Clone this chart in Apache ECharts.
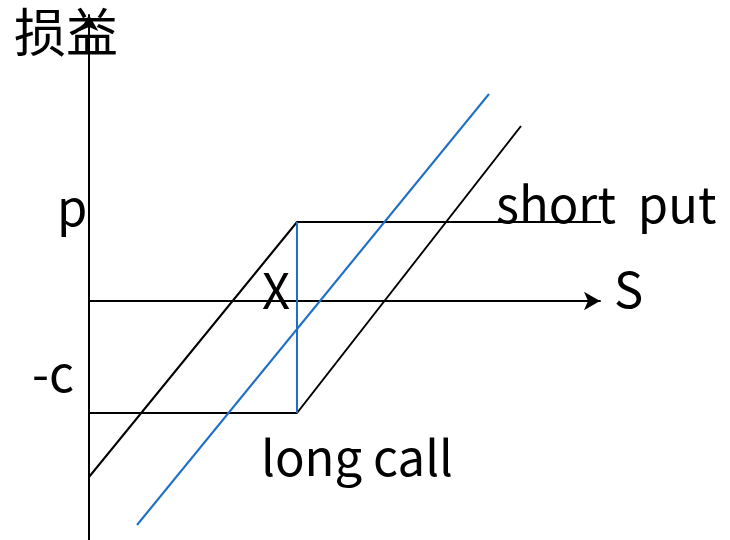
<!DOCTYPE html>
<html>
<head>
	<meta charset="utf-8">
	<title>损益图</title>
	<script src="https://cdn.jsdelivr.net/npm/echarts@6/dist/echarts.min.js"></script>
</head>
<body style="margin:0">
	<div id="main" style="width:730px; height:540px"></div>
	<script type="text/javascript">
	// 数据：横轴 S（距原点），纵轴 损益
	var strikeX = 208;
	var premiumP = 79;
	var costC = -112;
	var shortPut = [[0, -176], [strikeX, premiumP], [528, premiumP]];
	var longCall = [[0, costC], [strikeX, costC], [432, 175]];
	var combined = [[48, -224], [400, 207]];
	var strikeLine = [[strikeX, premiumP], [strikeX, costC]];

	var FONT = '"Noto Sans CJK SC", "Noto Sans", sans-serif';
	var myChart = echarts.init(document.getElementById('main'));

	// 文字标注
	function txt(x, y, s, size) {
		return {
			type: 'text', left: x, top: y,
			style: { text: s, font: (size || 49) + 'px ' + FONT, fill: '#000' }
		};
	}

	var option = {
		backgroundColor: '#ffffff',
		animation: false,
		grid: { left: 89, right: 130, top: 15, bottom: 0 },
		xAxis: {
			type: 'value', min: 0, max: 511,
			axisLine: { onZero: true, symbol: ['none', 'arrow'], symbolSize: [14, 16],
				lineStyle: { color: '#000', width: 2 } },
			axisTick: { show: false }, axisLabel: { show: false }, splitLine: { show: false }
		},
		yAxis: {
			type: 'value', min: -239, max: 286,
			axisLine: { show: true, symbol: ['none', 'arrow'], symbolSize: [14, 16],
				lineStyle: { color: '#000', width: 2 } },
			axisTick: { show: false }, axisLabel: { show: false }, splitLine: { show: false }
		},
		series: [
			{ name: 'short put', type: 'line', data: shortPut, symbol: 'none', clip: false,
				lineStyle: { color: '#000', width: 2 } },
			{ name: 'long call', type: 'line', data: longCall, symbol: 'none', clip: false,
				lineStyle: { color: '#000', width: 2 } },
			{ name: 'X', type: 'line', data: strikeLine, symbol: 'none',
				lineStyle: { color: '#1f6fc6', width: 2 } },
			{ name: '组合', type: 'line', data: combined, symbol: 'none',
				lineStyle: { color: '#1f6fc6', width: 2 } }
		],
		graphic: [
			txt(14, 6, '损益', 52),
			txt(57, 183, 'p'),
			txt(32, 349, '-c'),
			txt(262, 266, 'X'),
			txt(614, 265, 'S'),
			txt(496, 180, 'short  put'),
			txt(261, 433, 'long call')
		]
	};

	myChart.setOption(option);
	</script>
</body>
</html>
